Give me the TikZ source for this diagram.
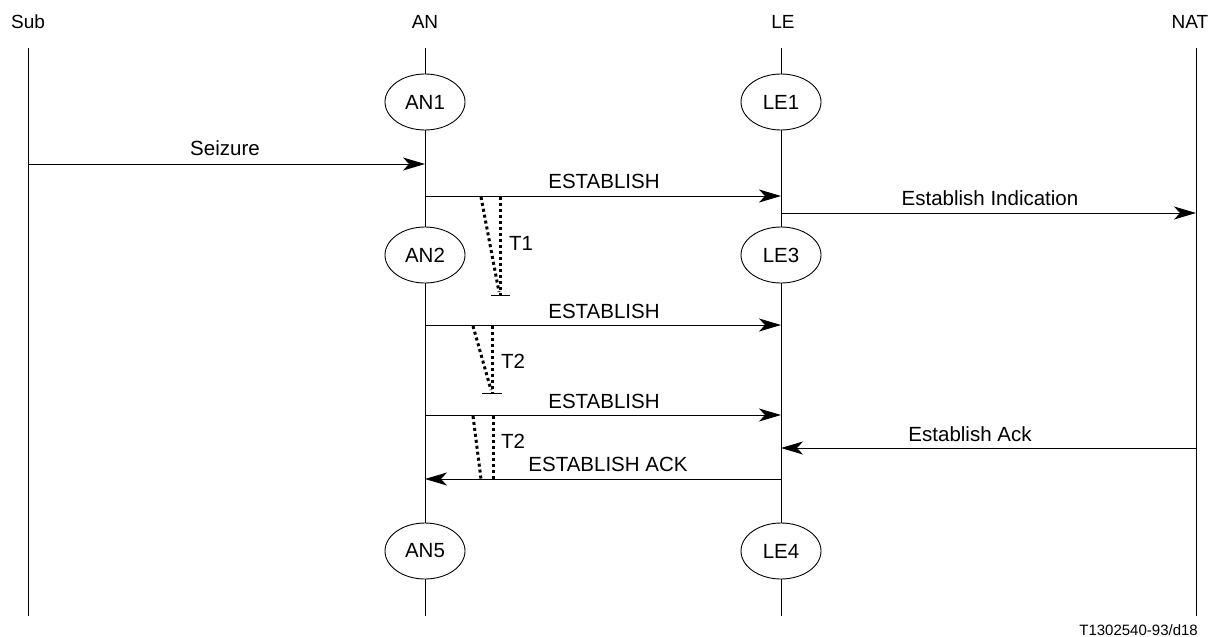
\documentclass[tikz,border=0pt]{standalone}
\usepackage{fontspec}
\setmainfont{Liberation Sans}
\usetikzlibrary{shapes.geometric,arrows.meta}
\begin{document}
\begin{tikzpicture}[x=1pt,y=-1pt,
  hdr/.style={font=\fontsize{19}{22}\selectfont, inner sep=0pt},
  lbl/.style={font=\fontsize{20.5}{24}\selectfont, inner sep=0pt},
  state/.style={ellipse, draw, fill=white, minimum width=80pt, minimum height=56pt, inner sep=0pt, font=\fontsize{20.5}{24}\selectfont, line width=0.9pt},
  life/.style={line width=0.9pt},
  msg/.style={line width=0.9pt, -{Stealth[length=22pt,width=13pt,inset=6pt]}},
  timer/.style={line width=3pt, dash pattern=on 3pt off 3pt},
  tbar/.style={line width=0.9pt}]
\useasboundingbox (0,0) rectangle (1226,637);
% headers
\node[hdr] (hSub) at (28,22) {Sub};
\node[hdr] (hAN) at (425,22) {AN};
\node[hdr] (hLE) at (783,22) {LE};
\node[hdr] (hNAT) at (1190,22) {NAT};
% lifeline ends
\coordinate (subT) at (28,48); \coordinate (subB) at (28,616);
\coordinate (anT) at (425,48); \coordinate (anB) at (425,616);
\coordinate (leT) at (781,48); \coordinate (leB) at (781,616);
\coordinate (natT) at (1196,48); \coordinate (natB) at (1196,616);
\draw[life] (subT) -- (subB);
\draw[life] (anT) -- (anB);
\draw[life] (leT) -- (leB);
\draw[life] (natT) -- (natB);
% states
\node[state] (AN1) at (425,102) {AN1};
\node[state] (LE1) at (781,102) {LE1};
\node[state] (AN2) at (425,255) {AN2};
\node[state] (LE3) at (781,255) {LE3};
\node[state] (AN5) at (425,551) {AN5};
\node[state] (LE4) at (781,551) {LE4};
% message endpoints
\coordinate (m1s) at (28,164); \coordinate (m1e) at (425,164);
\coordinate (m2s) at (425,196); \coordinate (m2e) at (781,196);
\coordinate (m3s) at (781,213); \coordinate (m3e) at (1196,213);
\coordinate (m4s) at (425,325); \coordinate (m4e) at (781,325);
\coordinate (m5s) at (425,415); \coordinate (m5e) at (781,415);
\coordinate (m6s) at (1196,448); \coordinate (m6e) at (781,448);
\coordinate (m7s) at (781,479); \coordinate (m7e) at (425,479);
\draw[msg] (m1s) -- (m1e);
\draw[msg] (m2s) -- (m2e);
\draw[msg] (m3s) -- (m3e);
\draw[msg] (m4s) -- (m4e);
\draw[msg] (m5s) -- (m5e);
\draw[msg] (m6s) -- (m6e);
\draw[msg] (m7s) -- (m7e);
\node[lbl] (l1) at (225,148) {Seizure};
\node[lbl] (l2) at (604,181) {ESTABLISH};
\node[lbl] (l3) at (990,198) {Establish Indication};
\node[lbl] (l4) at (604,311) {ESTABLISH};
\node[lbl] (l5) at (604,401) {ESTABLISH};
\node[lbl] (l6) at (970,434) {Establish Ack};
\node[lbl] (l7) at (608,464) {ESTABLISH ACK};
% timers
\coordinate (t1a) at (500,197); \coordinate (t1b) at (500,295);
\coordinate (t1c) at (481,197); \coordinate (t1d) at (499,292);
\draw[timer] (t1a) -- (t1b);
\draw[timer] (t1c) -- (t1d);
\coordinate (t1l) at (491,295); \coordinate (t1r) at (510,295);
\draw[tbar] (t1l) -- (t1r);
\node[lbl] (T1) at (521,243) {T1};
\coordinate (t2a) at (492,326); \coordinate (t2b) at (492,393);
\coordinate (t2c) at (473,326); \coordinate (t2d) at (491,390);
\draw[timer] (t2a) -- (t2b);
\draw[timer] (t2c) -- (t2d);
\coordinate (t2l) at (482,393); \coordinate (t2r) at (502,393);
\draw[tbar] (t2l) -- (t2r);
\node[lbl] (T2a) at (513,361) {T2};
\coordinate (t3a) at (493,416); \coordinate (t3b) at (493,479);
\coordinate (t3c) at (473,416); \coordinate (t3d) at (481,479);
\draw[timer] (t3a) -- (t3b);
\draw[timer] (t3c) -- (t3d);
\node[lbl] (T2b) at (513,441) {T2};
% footer
\node[font=\fontsize{15}{18}\selectfont, inner sep=0pt, anchor=east] (ft) at (1198,630) {T1302540-93/d18};
\end{tikzpicture}
\end{document}
